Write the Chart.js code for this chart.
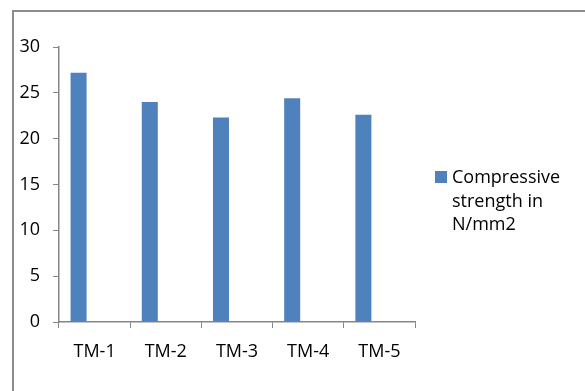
<!DOCTYPE html>
<html>
<head>
<meta charset="utf-8">
<script src="https://cdn.jsdelivr.net/npm/chart.js@4/dist/chart.umd.min.js"></script>
<style>
  html, body { margin: 0; padding: 0; background: #fff; }
  #wrap { width: 585px; height: 391px; position: relative; }
</style>
</head>
<body>
<div id="wrap"><canvas id="c" width="585" height="391"></canvas></div>
<script>
// Compressive strength of the test mixes
const categories = ['TM-1', 'TM-2', 'TM-3', 'TM-4', 'TM-5'];
const strengthValues = [27.2, 24.0, 22.3, 24.4, 22.6];
const emptySeries = [null, null, null, null, null];
const yTicks = [0, 5, 10, 15, 20, 25, 30];

const seriesLabel = 'Compressive strength in N/mm2';
const seriesColor = '#4F81BD';
const axisColor = '#868686';
const fontFamily = "'Open Sans', 'Liberation Sans', sans-serif";

// Outer frame of the chart
const framePlugin = {
  id: 'frame',
  beforeDraw(chart) {
    const ctx = chart.ctx;
    ctx.save();
    ctx.fillStyle = '#fff';
    ctx.fillRect(0, 0, chart.width, chart.height);
    ctx.strokeStyle = '#8c8c8c';
    ctx.lineWidth = 2;
    ctx.beginPath();
    ctx.moveTo(13, chart.height + 2);
    ctx.lineTo(13, 11);
    ctx.lineTo(chart.width + 2, 11);
    ctx.stroke();
    ctx.restore();
  }
};

// Legend on the right with the label wrapped over several lines
const sideLegend = {
  id: 'sideLegend',
  afterDraw(chart) {
    const ctx = chart.ctx;
    const ds = chart.data.datasets[0];
    const lines = ['Compressive', 'strength in', 'N/mm2'];
    ctx.save();
    ctx.fillStyle = ds.backgroundColor;
    ctx.fillRect(435, 171, 12, 12);
    ctx.fillStyle = '#000';
    ctx.font = '18px ' + fontFamily;
    ctx.textBaseline = 'alphabetic';
    ctx.textAlign = 'left';
    lines.forEach((t, i) => ctx.fillText(t, 452, 183 + i * 23.5));
    ctx.restore();
  }
};

new Chart(document.getElementById('c'), {
  type: 'bar',
  data: {
    labels: categories,
    datasets: [
      { label: seriesLabel, data: strengthValues, backgroundColor: seriesColor,
        barPercentage: 0.5, categoryPercentage: 0.9 },
      { label: '', data: emptySeries, backgroundColor: seriesColor,
        barPercentage: 0.5, categoryPercentage: 0.9 }
    ]
  },
  options: {
    responsive: false,
    animation: false,
    devicePixelRatio: 1,
    layout: { padding: { left: 0, top: 47, right: 170, bottom: 0 } },
    plugins: { legend: { display: false }, tooltip: { enabled: false } },
    scales: {
      x: {
        afterFit(axis) { axis.height = 69; },
        grid: { offset: true, drawOnChartArea: false, drawTicks: true, tickLength: 6, color: axisColor },
        border: { color: axisColor, width: 1.5 },
        ticks: { color: '#000', font: { size: 18, family: fontFamily }, padding: 13, maxRotation: 0 }
      },
      y: {
        min: 0, max: 30,
        afterFit(axis) { axis.width = 59; },
        afterBuildTicks(axis) { axis.ticks = yTicks.map(v => ({ value: v })); },
        grid: { drawOnChartArea: false, drawTicks: true, tickLength: 6, color: axisColor },
        border: { color: axisColor, width: 1.5 },
        ticks: { color: '#000', font: { size: 18, family: fontFamily }, padding: 13 }
      }
    }
  },
  plugins: [framePlugin, sideLegend]
});
</script>
</body>
</html>
